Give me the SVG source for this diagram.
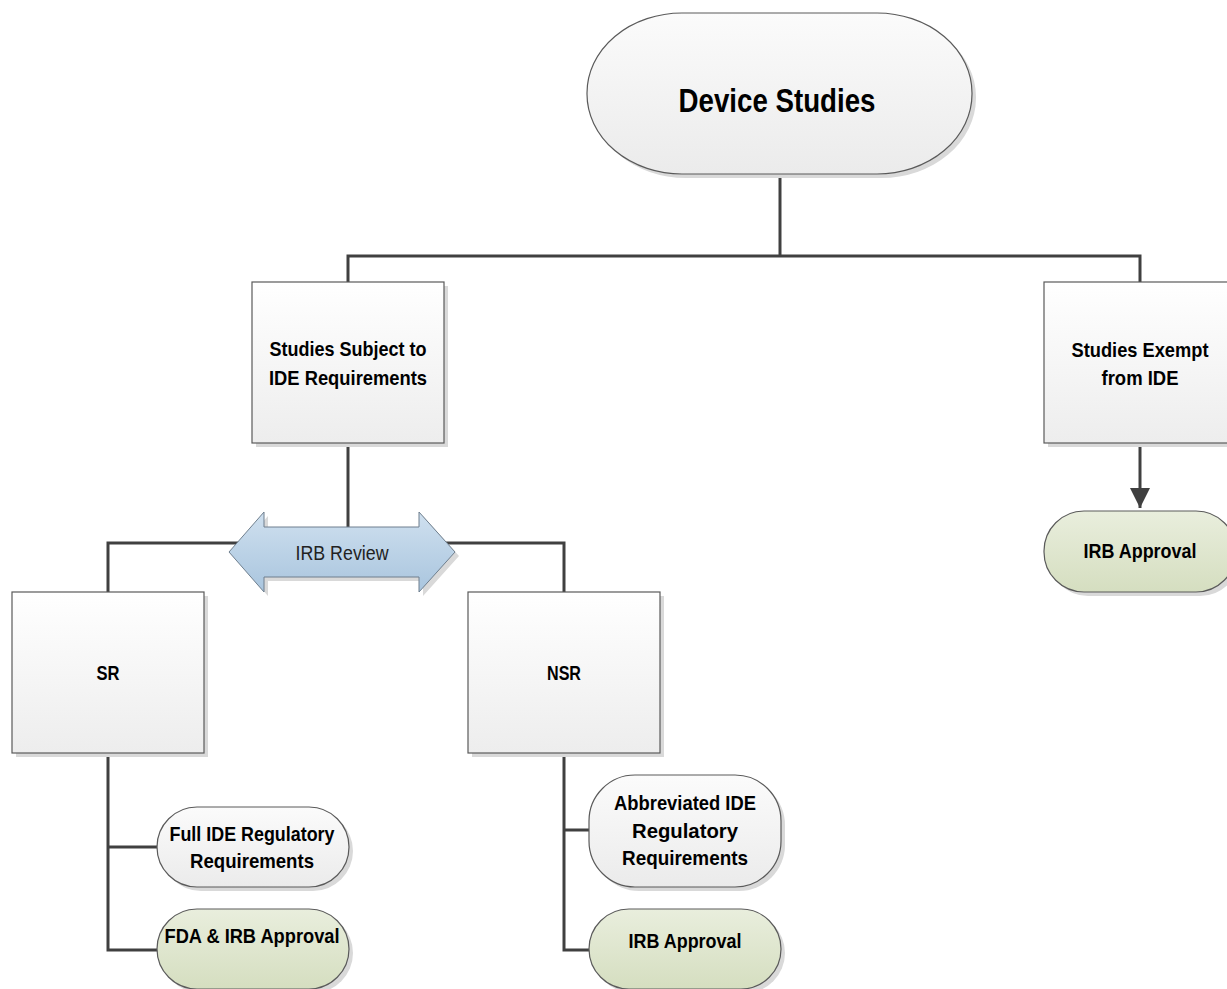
<svg xmlns="http://www.w3.org/2000/svg" width="1227" height="989" viewBox="0 0 1227 989">
<style>
.box{stroke:#5a5a5a;stroke-width:1.2;fill:url(#gBox)}
.pill{stroke:#5a5a5a;stroke-width:1.2;fill:url(#gPill)}
.green{stroke:#5a5a5a;stroke-width:1.2;fill:url(#gGreen)}
.shadow{fill:#d9d9d9;stroke:none}
.conn{fill:none;stroke:#404040;stroke-width:3}
.t{font-family:"Liberation Sans",Arial,sans-serif;font-weight:bold;font-size:21px;fill:#000;text-anchor:middle}
.big{font-size:33px}
.rev{font-family:"Liberation Sans",Arial,sans-serif;font-size:21px;fill:#222;text-anchor:middle}
</style>
<defs>
<linearGradient id="gBox" x1="0" y1="0" x2="0" y2="1"><stop offset="0" stop-color="#ffffff"/><stop offset="1" stop-color="#ededed"/></linearGradient>
<linearGradient id="gPill" x1="0" y1="0" x2="0" y2="1"><stop offset="0" stop-color="#fbfbfb"/><stop offset="1" stop-color="#ebebeb"/></linearGradient>
<linearGradient id="gGreen" x1="0" y1="0" x2="0" y2="1"><stop offset="0" stop-color="#e9eedd"/><stop offset="1" stop-color="#d5dec0"/></linearGradient>
<linearGradient id="gBlue" x1="0" y1="0" x2="0" y2="1"><stop offset="0" stop-color="#cfe0ef"/><stop offset="1" stop-color="#a9c5de"/></linearGradient>
<marker id="arr" markerWidth="20" markerHeight="20" refX="20" refY="10" orient="auto" markerUnits="userSpaceOnUse"><path d="M0,0 L20,10 L0,20 Z" fill="#404040"/></marker>
</defs>

<g id="connectors">
<path class="conn" d="M780,174 V256"/>
<path class="conn" d="M348,282 V256 H1140 V282"/>
<path class="conn" d="M348,443 V530"/>
<path class="conn" d="M108,592 V543 H564 V592"/>
<path class="conn" d="M108,753 V950 H158 M108,847 H158"/>
<path class="conn" d="M564,753 V950 H590 M564,830 H590"/>
<path class="conn" d="M1140,443 V508" marker-end="url(#arr)"/>
</g>

<g id="device-studies">
<rect class="shadow" x="591" y="17" width="385" height="161" rx="95" ry="80"/>
<rect class="pill" x="587" y="13" width="385" height="161" rx="95" ry="80"/>
<text class="t big" x="777" y="112" textLength="197" lengthAdjust="spacingAndGlyphs">Device Studies</text>
</g>

<g id="subject-ide">
<rect class="shadow" x="256" y="286" width="192" height="161"/>
<rect class="box" x="252" y="282" width="192" height="161"/>
<text class="t" x="348" y="356" textLength="157" lengthAdjust="spacingAndGlyphs">Studies Subject to</text>
<text class="t" x="348" y="385" textLength="158" lengthAdjust="spacingAndGlyphs">IDE Requirements</text>
</g>

<g id="exempt-ide">
<rect class="shadow" x="1048" y="286" width="192" height="161"/>
<rect class="box" x="1044" y="282" width="192" height="161"/>
<text class="t" x="1140" y="357" textLength="137" lengthAdjust="spacingAndGlyphs">Studies Exempt</text>
<text class="t" x="1140" y="385" textLength="77" lengthAdjust="spacingAndGlyphs">from IDE</text>
</g>

<g id="irb-approval-exempt">
<rect class="shadow" x="1048" y="515" width="192" height="81" rx="40" ry="40"/>
<rect class="green" x="1044" y="511" width="192" height="81" rx="40" ry="40"/>
<text class="t" x="1140" y="558" textLength="113" lengthAdjust="spacingAndGlyphs">IRB Approval</text>
</g>

<g id="irb-review">
<polygon class="shadow" points="233,556 268,516 268,531 423,531 423,516 459,556 423,596 423,581 268,581 268,596"/>
<polygon points="229,552 264,512 264,527 419,527 419,512 455,552 419,592 419,577 264,577 264,592" fill="url(#gBlue)" stroke="#6f7f8e" stroke-width="1"/>
<text class="rev" x="342" y="560" textLength="93" lengthAdjust="spacingAndGlyphs">IRB Review</text>
</g>

<g id="sr">
<rect class="shadow" x="16" y="596" width="192" height="161"/>
<rect class="box" x="12" y="592" width="192" height="161"/>
<text class="t" x="108" y="680" textLength="23" lengthAdjust="spacingAndGlyphs">SR</text>
</g>

<g id="nsr">
<rect class="shadow" x="472" y="596" width="192" height="161"/>
<rect class="box" x="468" y="592" width="192" height="161"/>
<text class="t" x="564" y="680" textLength="34" lengthAdjust="spacingAndGlyphs">NSR</text>
</g>

<g id="full-ide">
<rect class="shadow" x="161" y="811" width="192" height="80" rx="40" ry="40"/>
<rect class="pill" x="157" y="807" width="192" height="80" rx="40" ry="40"/>
<text class="t" x="252" y="841" textLength="165" lengthAdjust="spacingAndGlyphs">Full IDE Regulatory</text>
<text class="t" x="252" y="868" textLength="124" lengthAdjust="spacingAndGlyphs">Requirements</text>
</g>

<g id="fda-irb">
<rect class="shadow" x="161" y="913" width="192" height="80" rx="40" ry="40"/>
<rect class="green" x="157" y="909" width="192" height="80" rx="40" ry="40"/>
<text class="t" x="252" y="943" textLength="175" lengthAdjust="spacingAndGlyphs">FDA &amp; IRB Approval</text>
</g>

<g id="abbrev-ide">
<rect class="shadow" x="593" y="779" width="192" height="112" rx="46" ry="46"/>
<rect class="pill" x="589" y="775" width="192" height="112" rx="46" ry="46"/>
<text class="t" x="685" y="810" textLength="142" lengthAdjust="spacingAndGlyphs">Abbreviated IDE</text>
<text class="t" x="685" y="838" textLength="106" lengthAdjust="spacingAndGlyphs">Regulatory</text>
<text class="t" x="685" y="865" textLength="126" lengthAdjust="spacingAndGlyphs">Requirements</text>
</g>

<g id="irb-approval-nsr">
<rect class="shadow" x="593" y="913" width="192" height="80" rx="40" ry="40"/>
<rect class="green" x="589" y="909" width="192" height="80" rx="40" ry="40"/>
<text class="t" x="685" y="948" textLength="113" lengthAdjust="spacingAndGlyphs">IRB Approval</text>
</g>
</svg>
